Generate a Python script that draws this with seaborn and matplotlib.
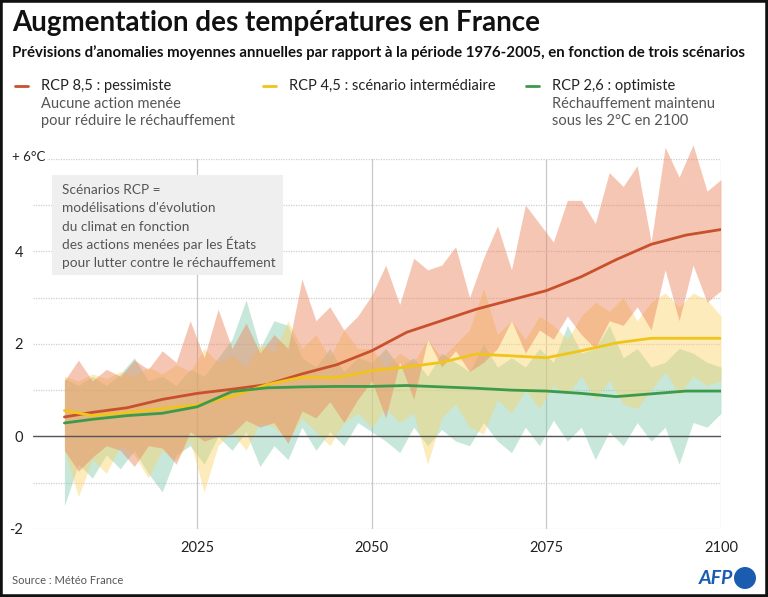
import numpy as np
import pandas as pd
import matplotlib
matplotlib.use("Agg")
import matplotlib.pyplot as plt
import seaborn as sns
from matplotlib.patches import Rectangle, Ellipse
from matplotlib.lines import Line2D

# ------------------------------------------
# Données
# ------------------------------------------
years_band = list(range(2006, 2101, 2))

hi85 = [1.2, 1.65, 1.2, 1.45, 1.3, 1.65, 1.45, 1.85, 1.6, 2.5,
        1.7, 2.75, 1.9, 2.45, 1.8, 2.2, 1.9, 3.4, 2.5, 2.8,
        2.3, 2.6, 3.05, 3.7, 2.85, 3.85, 3.6, 3.7, 4.1, 3.0,
        3.85, 4.55, 3.6, 5.0, 4.6, 4.2, 5.1, 5.1, 4.6, 5.7,
        5.4, 5.85, 4.2, 6.25, 5.6, 6.3, 5.3, 5.55]
lo85 = [-0.3, -0.75, -0.45, -0.2, -0.3, -0.65, -0.2, -0.25, -0.6, 0.1,
        -0.1, 0.0, 0.05, 0.35, 0.2, 0.3, -0.15, 0.55, 0.4, 0.75,
        0.3, 0.8, 1.2, 0.4, 1.6, 0.8, 2.1, 1.5, 1.85, 1.4,
        1.6, 1.9, 2.5, 1.8, 2.3, 2.1, 2.6, 2.2, 1.9, 2.5,
        2.4, 2.8, 2.3, 3.6, 2.5, 3.7, 2.9, 3.15]

hi45 = [1.3, 1.2, 1.35, 1.25, 1.4, 1.3, 1.5, 1.35, 1.55, 1.4,
        1.9, 1.6, 1.75, 1.5, 2.0, 1.8, 2.5, 1.9, 2.2, 1.7,
        2.3, 1.9, 1.9, 1.5, 1.8, 1.6, 2.1, 1.7, 2.0, 2.3,
        3.2, 2.2, 2.5, 2.1, 2.6, 2.4, 2.1, 2.6, 2.9, 2.7,
        3.0, 2.5, 2.9, 3.1, 2.8, 3.1, 2.95, 2.6]
lo45 = [-0.3, -1.3, -0.5, -0.8, -0.2, -0.4, -0.9, -0.3, -0.5, -0.1,
        -1.2, -0.2, 0.1, -0.3, 0.3, 0.2, -0.1, 0.4, 0.1, -0.2,
        0.3, 0.5, 0.2, 0.6, 0.3, 0.5, -0.6, 0.4, 0.7, 0.2,
        0.05, 0.8, 0.5, 1.0, 0.6, 1.1, 0.9, 1.3, 0.8, 1.2,
        0.7, 0.6, 1.0, 1.4, 0.9, 1.3, 1.1, 1.2]

hi26 = [1.25, 1.1, 1.3, 1.1, 1.35, 1.7, 1.2, 1.3, 1.1, 1.45,
        1.3, 1.7, 2.1, 2.95, 1.9, 2.5, 2.4, 1.7, 1.5, 1.9,
        1.4, 1.7, 1.6, 1.9, 1.5, 1.7, 1.3, 1.8, 1.6, 1.4,
        2.0, 1.5, 1.7, 1.5, 1.9, 1.6, 2.4, 1.8, 1.9, 2.4,
        1.7, 1.9, 1.5, 1.6, 1.9, 1.8, 1.6, 1.5]
lo26 = [-1.5, -0.6, -0.9, -0.4, -0.7, -0.3, -0.8, -1.2, -0.4, -0.2,
        -0.6, 0.0, -0.3, 0.1, -0.65, -0.2, -0.5, 0.2, -0.3, 0.1,
        -0.2, 0.3, 0.1, -0.1, -0.35, 0.2, -0.2, 0.15, -0.1, -0.2,
        0.3, -0.1, -0.35, 0.2, -0.2, 0.35, -0.1, 0.2, -0.5, 0.1,
        -0.2, 0.3, -0.1, 0.2, -0.6, 0.3, 0.2, 0.5]

years_mean = [2006, 2010, 2015, 2020, 2025, 2030, 2035, 2040, 2045, 2050,
              2055, 2060, 2065, 2070, 2075, 2080, 2085, 2090, 2095, 2100]
mean85 = [0.42, 0.52, 0.62, 0.8, 0.93, 1.02, 1.12, 1.35, 1.55, 1.85,
          2.25, 2.5, 2.75, 2.95, 3.15, 3.45, 3.82, 4.15, 4.35, 4.47]
mean45 = [0.56, 0.45, 0.52, 0.6, 0.68, 0.87, 1.12, 1.28, 1.27, 1.42,
          1.5, 1.6, 1.78, 1.74, 1.7, 1.85, 2.02, 2.12, 2.12, 2.12]
mean26 = [0.29, 0.37, 0.45, 0.5, 0.64, 0.97, 1.05, 1.07, 1.08, 1.08,
          1.1, 1.07, 1.04, 1.0, 0.98, 0.93, 0.86, 0.92, 0.98, 0.98]

scenarios = ["RCP 8,5", "RCP 4,5", "RCP 2,6"]
line_colors = {"RCP 8,5": "#c9502c", "RCP 4,5": "#f0c419", "RCP 2,6": "#3d9a4b"}
band_colors = {"RCP 8,5": "#eb825a", "RCP 4,5": "#fbd46a", "RCP 2,6": "#82cbab"}

# ------------------------------------------
# Figure
# ------------------------------------------
sns.set_theme(style="white")
plt.rcParams["font.family"] = ["Lato", "DejaVu Sans"]

W, H = 768, 597
fig = plt.figure(figsize=(W / 100, H / 100), dpi=100)


def fx(px):
    return px / W


def fy(py):
    return 1 - py / H


ax = fig.add_axes([fx(33), fy(529), fx(721) - fx(33), fy(158.7) - fy(529)])

# bandes min/max (vert, jaune, orange)
for name, lo, hi in [("RCP 2,6", lo26, hi26), ("RCP 4,5", lo45, hi45), ("RCP 8,5", lo85, hi85)]:
    ax.fill_between(years_band, lo, hi, color=band_colors[name], alpha=0.45,
                    lw=0, clip_on=False, zorder=1)

ax.axhline(0, color="#555555", lw=1, zorder=1.5)

means = pd.DataFrame({
    "annee": years_mean * 3,
    "anomalie": mean85 + mean45 + mean26,
    "scenario": [s for s in scenarios for _ in years_mean],
})
sns.lineplot(data=means, x="annee", y="anomalie", hue="scenario", palette=line_colors,
             lw=2, legend=False, ax=ax, zorder=3)

ax.set_xlim(2001.5, 2100)
ax.set_ylim(-2, 6)
ax.set_xticks([2025, 2050, 2075, 2100])
ax.set_yticks(range(-2, 7))
ax.set_yticklabels(["-2", "", "0", "", "2", "", "4", "", ""])
ax.set_xlabel("")
ax.set_ylabel("")
ax.set_axisbelow(True)
ax.grid(axis="y", linestyle=(0, (1, 1)), color="#cfcfcf", lw=0.9)
ax.grid(axis="x", linestyle="-", color="#c8c8c8", lw=0.9)
for s in ax.spines.values():
    s.set_visible(False)
ax.tick_params(axis="both", length=0, labelsize=10.5, colors="#222222")
ax.tick_params(axis="x", pad=9)
ax.tick_params(axis="y", pad=7)

fig.text(fx(12), fy(161), "+ 6°C", fontsize=9.5, color="#222222", va="baseline", ha="left",
         bbox=dict(facecolor="white", edgecolor="none", pad=1))

# ------------------------------------------
# Titres et légende
# ------------------------------------------
fig.text(fx(12), fy(23), "Augmentation des températures en France", fontsize=20,
         fontweight="bold", color="#111111", va="center")
fig.text(fx(12), fy(57), "Prévisions d’anomalies moyennes annuelles par rapport à la période 1976-2005, "
         "en fonction de trois scénarios", fontsize=10.8, fontweight="bold", color="#111111",
         va="baseline")

legend_items = [
    ("RCP 8,5", "RCP 8,5 : pessimiste", ["Aucune action menée", "pour réduire le réchauffement"], 15),
    ("RCP 4,5", "RCP 4,5 : scénario intermédiaire", [], 263),
    ("RCP 2,6", "RCP 2,6 : optimiste", ["Réchauffement maintenu", "sous les 2°C en 2100"], 526),
]
for name, label, sub, x0 in legend_items:
    fig.add_artist(Line2D([fx(x0), fx(x0 + 13)], [fy(86), fy(86)], color=line_colors[name], lw=2))
    fig.text(fx(x0 + 26), fy(90), label, fontsize=10.5, color="#222222", va="baseline")
    for k, line in enumerate(sub):
        fig.text(fx(x0 + 26), fy(108 + 17 * k), line, fontsize=10.5, color="#555555", va="baseline")

# encadré explicatif
fig.add_artist(Rectangle((fx(52), fy(275)), fx(283) - fx(52), fy(175) - fy(275),
                         transform=fig.transFigure, facecolor="#efefef", edgecolor="none"))
note = ["Scénarios RCP =", "modélisations d'évolution", "du climat en fonction",
        "des actions menées par les États", "pour lutter contre le réchauffement"]
for k, line in enumerate(note):
    fig.text(fx(62), fy(194 + 18.3 * k), line, fontsize=9.8, color="#555555", va="baseline")

# pied de page
fig.text(fx(12), fy(580), "Source : Météo France", fontsize=8, color="#555555", va="center")
fig.text(fx(733), fy(578), "AFP", fontsize=14, fontweight="bold", fontstyle="italic",
         color="#1a5cb0", va="center", ha="right")
fig.add_artist(Ellipse((fx(745), fy(578)), 22 / W, 22 / H, transform=fig.transFigure,
                       facecolor="#1a5cb0", edgecolor="none"))

fig.add_artist(Rectangle((0, 0), 1, 1, transform=fig.transFigure, fill=False,
                         edgecolor="#111111", lw=4))

plt.savefig("out.png", dpi=100)
